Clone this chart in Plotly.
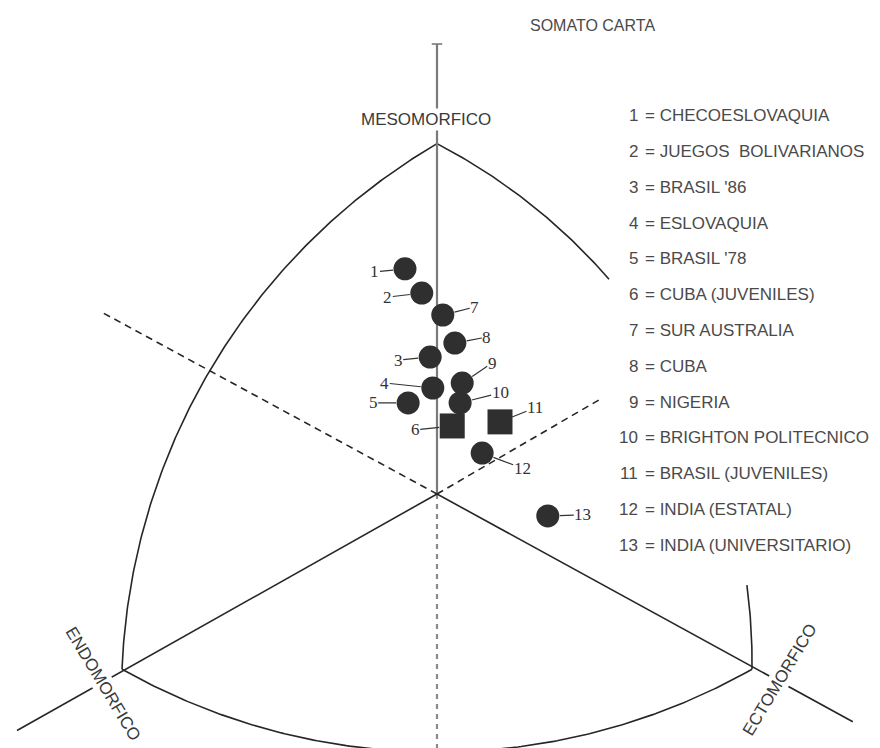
import numpy as np
import plotly.graph_objects as go

# Somatochart coordinates: X = ecto - endo, Y = 2*meso - (endo + ecto)
groups = [
    "CHECOESLOVAQUIA", "JUEGOS  BOLIVARIANOS", "BRASIL '86", "ESLOVAQUIA",
    "BRASIL '78", "CUBA (JUVENILES)", "SUR AUSTRALIA", "CUBA", "NIGERIA",
    "BRIGHTON POLITECNICO", "BRASIL (JUVENILES)", "INDIA (ESTATAL)",
    "INDIA (UNIVERSITARIO)",
]
labels = [str(i) for i in range(1, 14)]
soma_x = [-0.61, -0.29, -0.13, -0.08, -0.55, 0.29, 0.11, 0.34, 0.48, 0.44, 1.20, 0.86, 2.11]
soma_y = [7.71, 6.88, 4.69, 3.63, 3.12, 2.33, 6.13, 5.17, 3.80, 3.12, 2.47, 1.40, -0.75]
symbols = ["circle"] * 5 + ["square"] + ["circle"] * 4 + ["square"] + ["circle"] * 2

# Pixel offsets of each number label from its marker
label_dx = [-30, -34, -32, -48, -35, -37, 32, 32, 30, 40, 35, 40, 35]
label_dy = [3, 4, 3, -5, 0, 4, -8, -6, -20, -10, -14, 15, -1]

W, H = 880, 748
SX, SY = 52.5, 29.2          # pixels per somatochart unit
CX, CY = 437, 494            # pixel position of the origin
x_range = [-CX / SX, (W - CX) / SX]
y_range = [(CY - H) / SY, CY / SY]

ENDO, MESO, ECTO = (-6.0, -6.0), (0.0, 12.0), (6.0, -6.0)
LINE = "#262626"


def arc(p0, pm, p1, n=200):
    """Circular arc (in screen proportions) through three chart points."""
    r = SX / SY
    a = np.array([p0[0] * r, p0[1]]); b = np.array([pm[0] * r, pm[1]]); c = np.array([p1[0] * r, p1[1]])
    d = 2 * (a[0] * (b[1] - c[1]) + b[0] * (c[1] - a[1]) + c[0] * (a[1] - b[1]))
    ux = ((a @ a) * (b[1] - c[1]) + (b @ b) * (c[1] - a[1]) + (c @ c) * (a[1] - b[1])) / d
    uy = ((a @ a) * (c[0] - b[0]) + (b @ b) * (a[0] - c[0]) + (c @ c) * (b[0] - a[0])) / d
    rad = np.hypot(a[0] - ux, a[1] - uy)
    t0 = np.arctan2(a[1] - uy, a[0] - ux)
    tm = np.arctan2(b[1] - uy, b[0] - ux)
    t1 = np.arctan2(c[1] - uy, c[0] - ux)
    # choose the sweep that passes through the middle point
    def norm(t):
        return (t - t0) % (2 * np.pi)
    if norm(tm) < norm(t1):
        ts = t0 + np.linspace(0, norm(t1), n)
    else:
        ts = t0 - np.linspace(0, 2 * np.pi - norm(t1), n)
    return (ux + rad * np.cos(ts)) / r, uy + rad * np.sin(ts)


fig = go.Figure()


def line(xs, ys, color=LINE, width=1.6, dash="solid"):
    fig.add_trace(go.Scatter(x=list(xs), y=list(ys), mode="lines",
                             line=dict(color=color, width=width, dash=dash),
                             hoverinfo="skip", showlegend=False))


# Curved sides of the triangle
lx, ly = arc(MESO, (-4.32, 4.25), ENDO)
line(lx, ly)
rx, ry = arc(MESO, (3.24, 7.43), ECTO)
keep_top = ry >= 7.33
keep_bot = ry <= -3.05
line(rx[keep_top], ry[keep_top])
line(rx[keep_bot], ry[keep_bot])
bx, by = arc(ENDO, (0.0, -8.84), ECTO)
line(bx, by)

# Axes of the chart
line([0, 0], [0, 15.41], color="#7a7a7a", width=2.2)
line([-0.1, 0.1], [15.41, 15.41], color="#7a7a7a", width=1.6)
line([0, 0], [0, y_range[0]], color="#8a8a8a", width=2.2, dash="5px,5px")
line([0, -8.0], [0, -8.1])
line([0, 7.92], [0, -7.8])
line([0, -6.36], [0, 6.2], dash="7px,5px")
line([0, 3.16], [0, 3.3], dash="7px,5px")

# Group means
fig.add_trace(go.Scatter(
    x=soma_x, y=soma_y, mode="markers",
    marker=dict(symbol=symbols,
                size=[23 if s == "circle" else 25 for s in symbols],
                color="#2f2f2f", opacity=1, line=dict(width=0)),
    text=groups, hoverinfo="text", showlegend=False))

ann = []
for x, y, t, dx, dy, s in zip(soma_x, soma_y, labels, label_dx, label_dy, symbols):
    ann.append(dict(x=x, y=y, xref="x", yref="y", text=t, showarrow=True,
                    ax=dx, ay=dy, arrowhead=0, arrowwidth=1.2, arrowcolor="#333333",
                    standoff=12 if s == "circle" else 13, borderpad=0,
                    font=dict(family="Liberation Serif", size=17, color="#333333")))

# Key to the groups
KEY_FONT = dict(family="Liberation Sans", size=17, color="#4a4a4a")
for i, (t, g) in enumerate(zip(labels, groups)):
    yp = 1 - (116 + i * 35.75) / H
    ann.append(dict(x=640 / W, y=yp, xref="paper", yref="paper", text=t,
                    xanchor="right", yanchor="middle", showarrow=False, font=KEY_FONT))
    ann.append(dict(x=643 / W, y=yp, xref="paper", yref="paper", text="= " + g,
                    xanchor="left", yanchor="middle", showarrow=False, font=KEY_FONT))

ann.append(dict(x=592 / W, y=1 - 25 / H, xref="paper", yref="paper", text="SOMATO CARTA",
                showarrow=False, xanchor="center", yanchor="middle",
                font=dict(family="Liberation Sans", size=16, color="#4a4a4a")))
ann.append(dict(x=426 / W, y=1 - 120 / H, xref="paper", yref="paper", text="MESOMORFICO",
                showarrow=False, xanchor="center", yanchor="middle", bgcolor="white",
                font=dict(family="Liberation Sans", size=17, color="#3a3a3a")))
ann.append(dict(x=103 / W, y=1 - 683 / H, xref="paper", yref="paper", text="ENDOMORFICO",
                showarrow=False, textangle=59, bgcolor="white", borderpad=1,
                xanchor="center", yanchor="middle",
                font=dict(family="Liberation Sans", size=17, color="#3a3a3a")))
ann.append(dict(x=779 / W, y=1 - 680 / H, xref="paper", yref="paper", text="ECTOMORFICO",
                showarrow=False, textangle=-59, bgcolor="white", borderpad=1,
                xanchor="center", yanchor="middle",
                font=dict(family="Liberation Sans", size=17, color="#3a3a3a")))

fig.update_layout(
    width=W, height=H, margin=dict(l=0, r=0, t=0, b=0),
    paper_bgcolor="white", plot_bgcolor="white",
    xaxis=dict(range=x_range, visible=False, fixedrange=True),
    yaxis=dict(range=y_range, visible=False, fixedrange=True),
    annotations=ann, showlegend=False,
)

fig.write_html("out.html")
